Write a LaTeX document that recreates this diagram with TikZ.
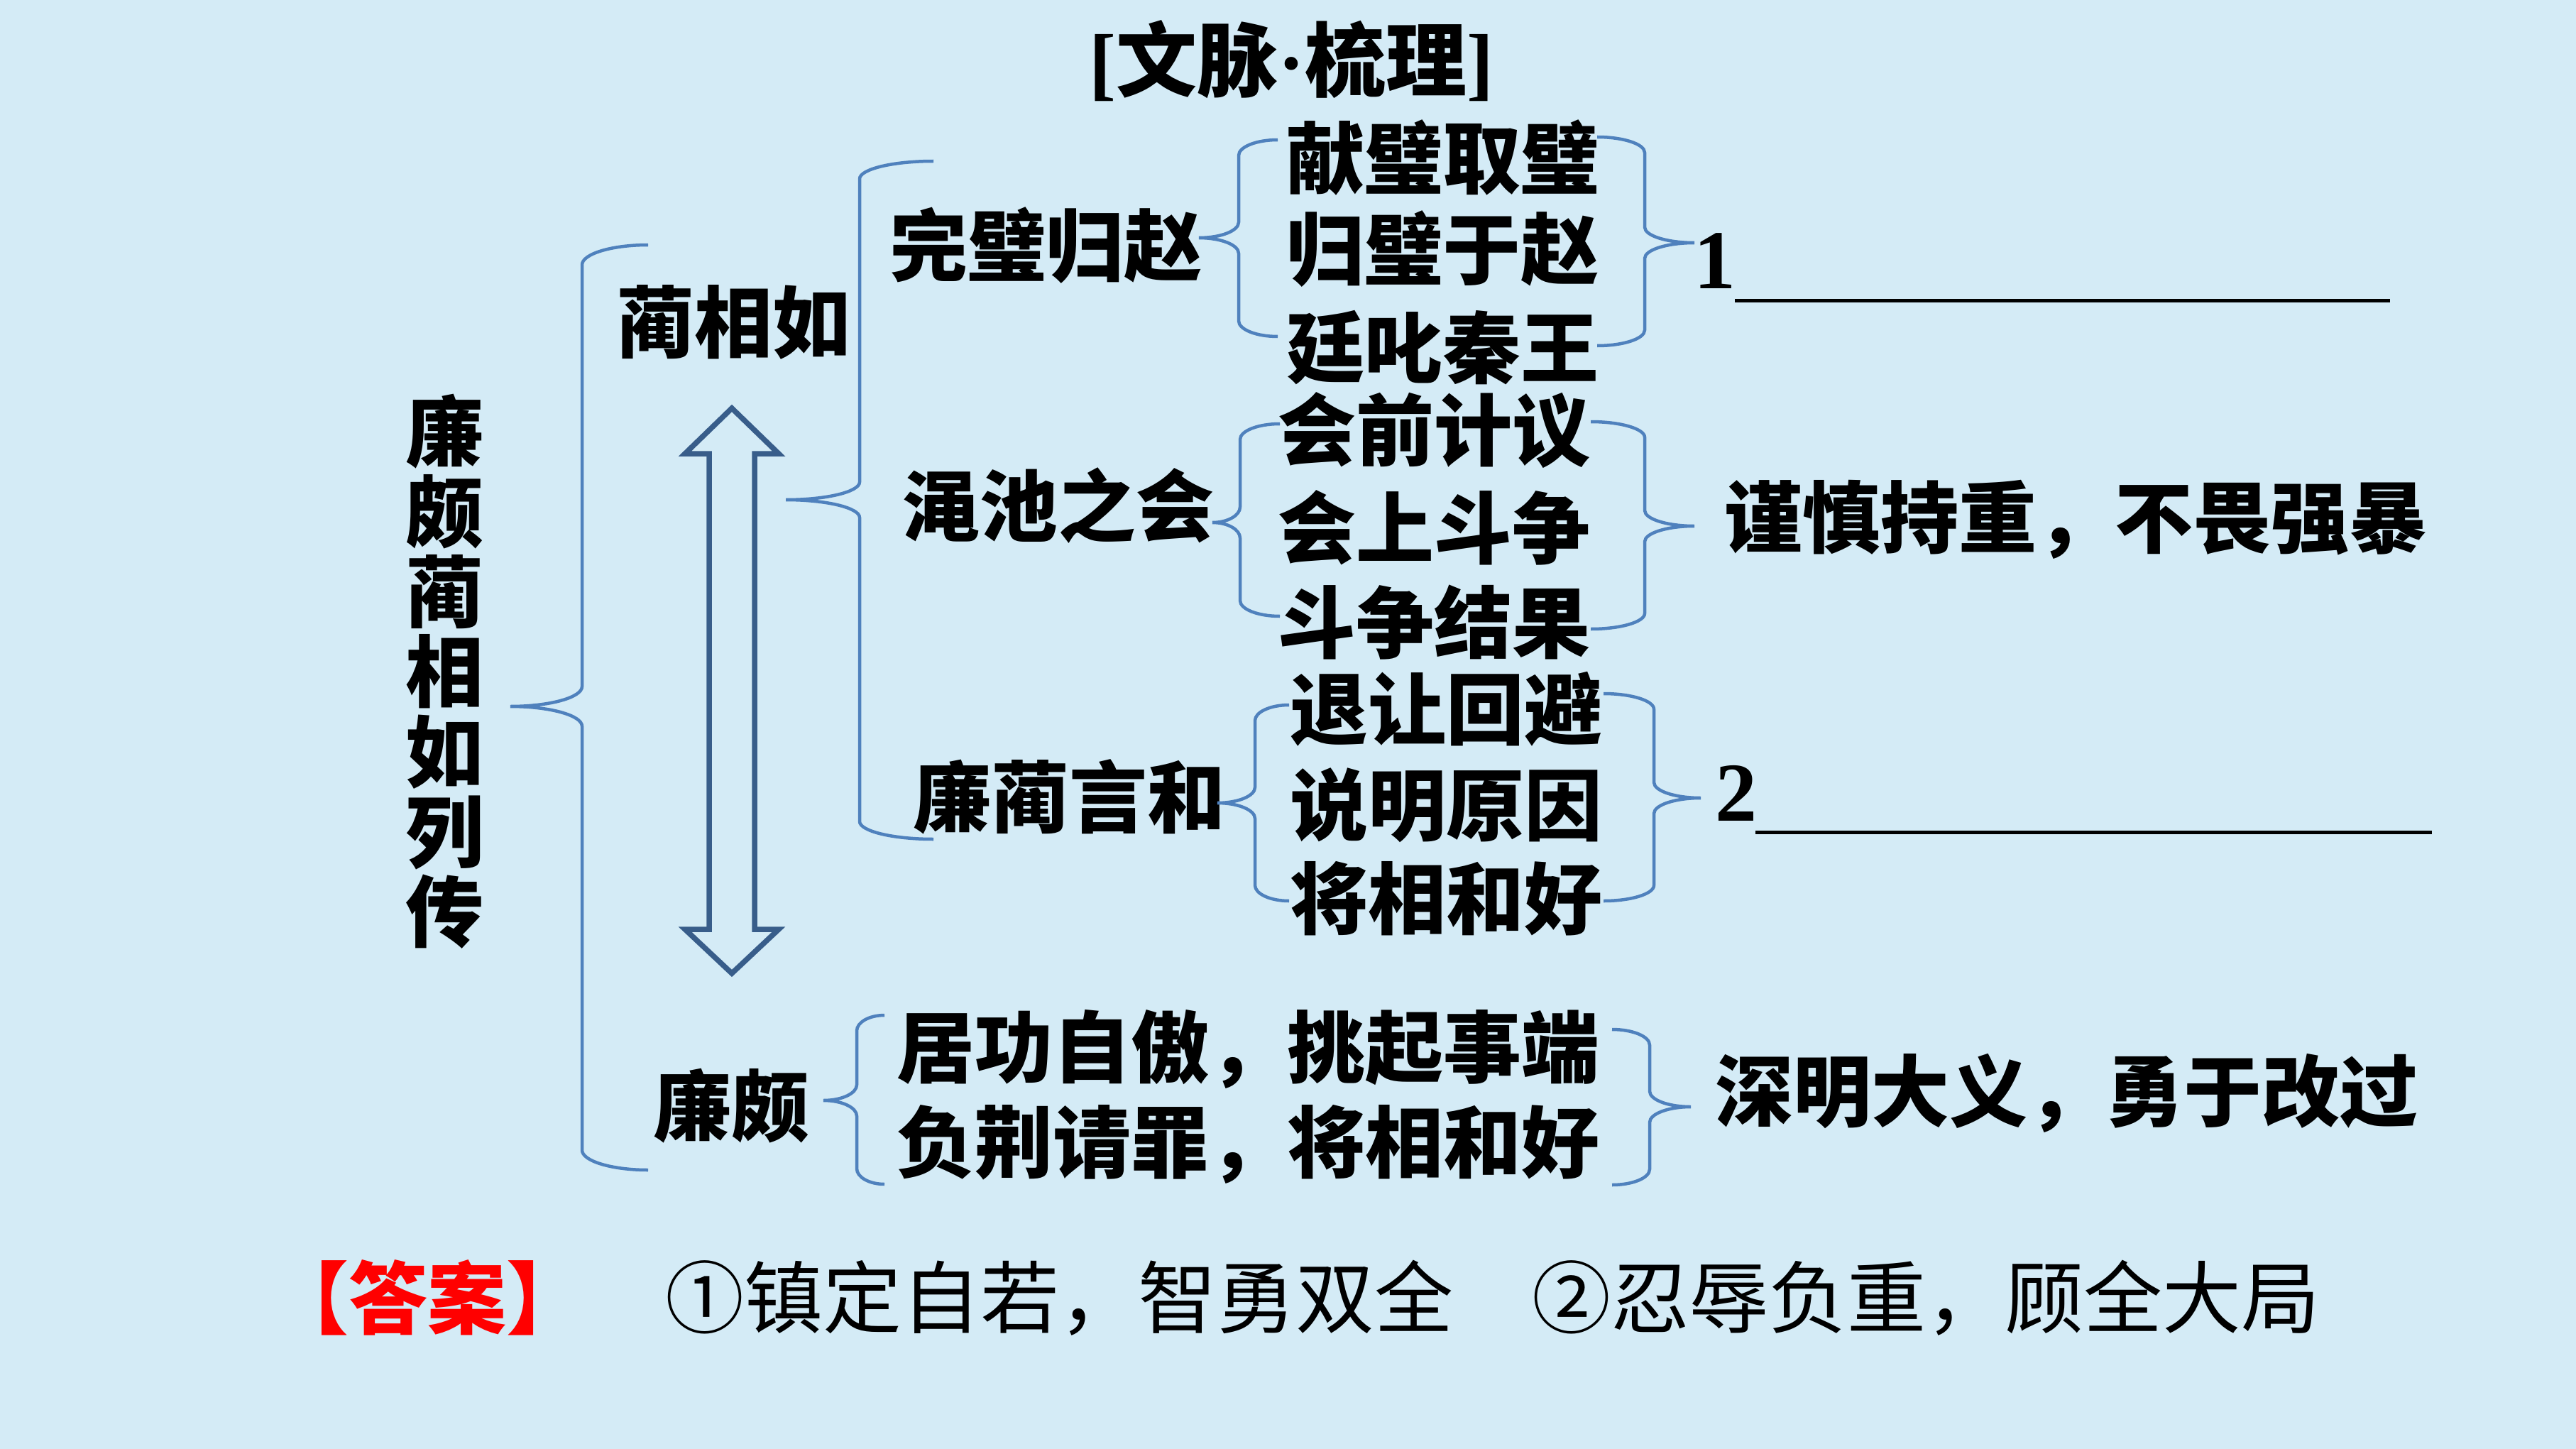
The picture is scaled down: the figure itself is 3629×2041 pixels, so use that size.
\documentclass[tikz,border=0pt]{standalone}
\usepackage{fontspec}
\newfontfamily\cjk{Noto Sans CJK SC}
\newfontfamily\latb{Liberation Serif Bold}
\definecolor{bgc}{RGB}{212,235,246}
\definecolor{brk}{RGB}{79,129,189}
\definecolor{arr}{RGB}{56,93,138}
\newcommand\brc[7]{%
 \draw[brkline] (#2,#4) .. controls ({#2+0.55*(#1-#2)},#4) and (#1,{#4+0.45*#7}) .. (#1,{#4+#7})
 -- (#1,{#5-#7}) .. controls (#1,{#5-0.45*#7}) and ({#3+0.55*(#1-#3)},#5) .. (#3,#5)
 .. controls ({#3+0.55*(#1-#3)},#5) and (#1,{#5+0.45*#7}) .. (#1,{#5+#7})
 -- (#1,{#6-#7}) .. controls (#1,{#6-0.45*#7}) and ({#2+0.55*(#1-#2)},#6) .. (#2,#6);}
\tikzset{
 txt/.style={inner sep=0pt, font=\cjk\bfseries\fontsize{110}{132}\selectfont},
 brkline/.style={draw=brk, line width=4.5pt},
 blank/.style={draw=black, line width=5pt},
 numtxt/.style={inner sep=0pt, font=\latb\fontsize{118}{120}\selectfont},
}
\begin{document}
\begin{tikzpicture}[x=1pt,y=-1pt]
\fill[bgc] (0,0) rectangle (3629,2041);
\useasboundingbox (0,0) rectangle (3629,2041);

% title
\node[inner sep=0pt, font=\fontsize{114}{120}\selectfont] (title) at (1819,86)
  {{\latb [}{\cjk\bfseries 文脉}{\latb ·}{\cjk\bfseries 梳理}{\latb ]}};

% root vertical text
\node[txt, align=center, font=\cjk\bfseries\fontsize{110}{112.7}\selectfont] (root) at (626,946)
  {廉\\颇\\蔺\\相\\如\\列\\传};

% level 1
\node[txt] (lin) at (1033,454) {蔺相如};
\node[txt] (lian) at (1030,1558) {廉颇};

% double arrow
\draw[arr, line width=7.5pt, line join=miter]
 (1031,575) -- (1097,639) -- (1063,639) -- (1063,1309) -- (1097,1309) -- (1031,1371)
 -- (965,1309) -- (999,1309) -- (999,639) -- (965,639) -- cycle;

% level 2
\node[txt] (wb) at (1473,346) {完璧归赵};
\node[txt] (mc) at (1490,712) {渑池之会};
\node[txt] (ll) at (1506,1122) {廉蔺言和};

% level 3
\node[txt] (a1) at (2032,222) {献璧取璧};
\node[txt] (a2) at (2032,351) {归璧于赵};
\node[txt] (a3) at (2032,490) {廷叱秦王};
\node[txt] (b1) at (2020,606) {会前计议};
\node[txt] (b2) at (2020,743) {会上斗争};
\node[txt] (b3) at (2020,877) {斗争结果};
\node[txt] (c1) at (2037,999) {退让回避};
\node[txt] (c2) at (2037,1134) {说明原因};
\node[txt] (c3) at (2037,1266) {将相和好};
\node[txt] (d1) at (1758,1478) {居功自傲，挑起事端};
\node[txt] (d2) at (1758,1612) {负荆请罪，将相和好};

% results
\node[numtxt] (n1) at (2416,368) {1};
\draw[blank] (2444,423) -- (3367,423);
\node[txt] (r2) at (2924,732) {谨慎持重，不畏强暴};
\node[numtxt] (n2) at (2446,1117) {2};
\draw[blank] (2473,1172) -- (3426,1172);
\node[txt] (r4) at (2911,1540) {深明大义，勇于改过};

% braces
\brc{820}{913}{719}{345}{995}{1648}{28}
\brc{1211}{1315}{1107}{227}{704}{1182}{25}
\brc{1745}{1800}{1689}{197}{335}{474}{22}
\brc{2317}{2250}{2387}{193}{342}{487}{22}
\brc{1747}{1803}{1708}{597}{736}{868}{22}
\brc{2317}{2241}{2387}{594}{741}{886}{22}
\brc{1768}{1816}{1715}{993}{1131}{1269}{22}
\brc{2330}{2259}{2396}{977}{1124}{1269}{22}
\brc{1207}{1246}{1160}{1430}{1550}{1668}{22}
\brc{2324}{2271}{2382}{1450}{1559}{1669}{22}

% answer
\node[inner sep=0pt, text=red, font=\cjk\bfseries\fontsize{111}{120}\selectfont] (ansl) at (602,1828) {【答案】};
\node[inner sep=0pt, anchor=west, font=\cjk\fontsize{111}{120}\selectfont] (ans) at (937,1828) {①镇定自若，智勇双全　②忍辱负重，顾全大局};
\end{tikzpicture}
\end{document}
